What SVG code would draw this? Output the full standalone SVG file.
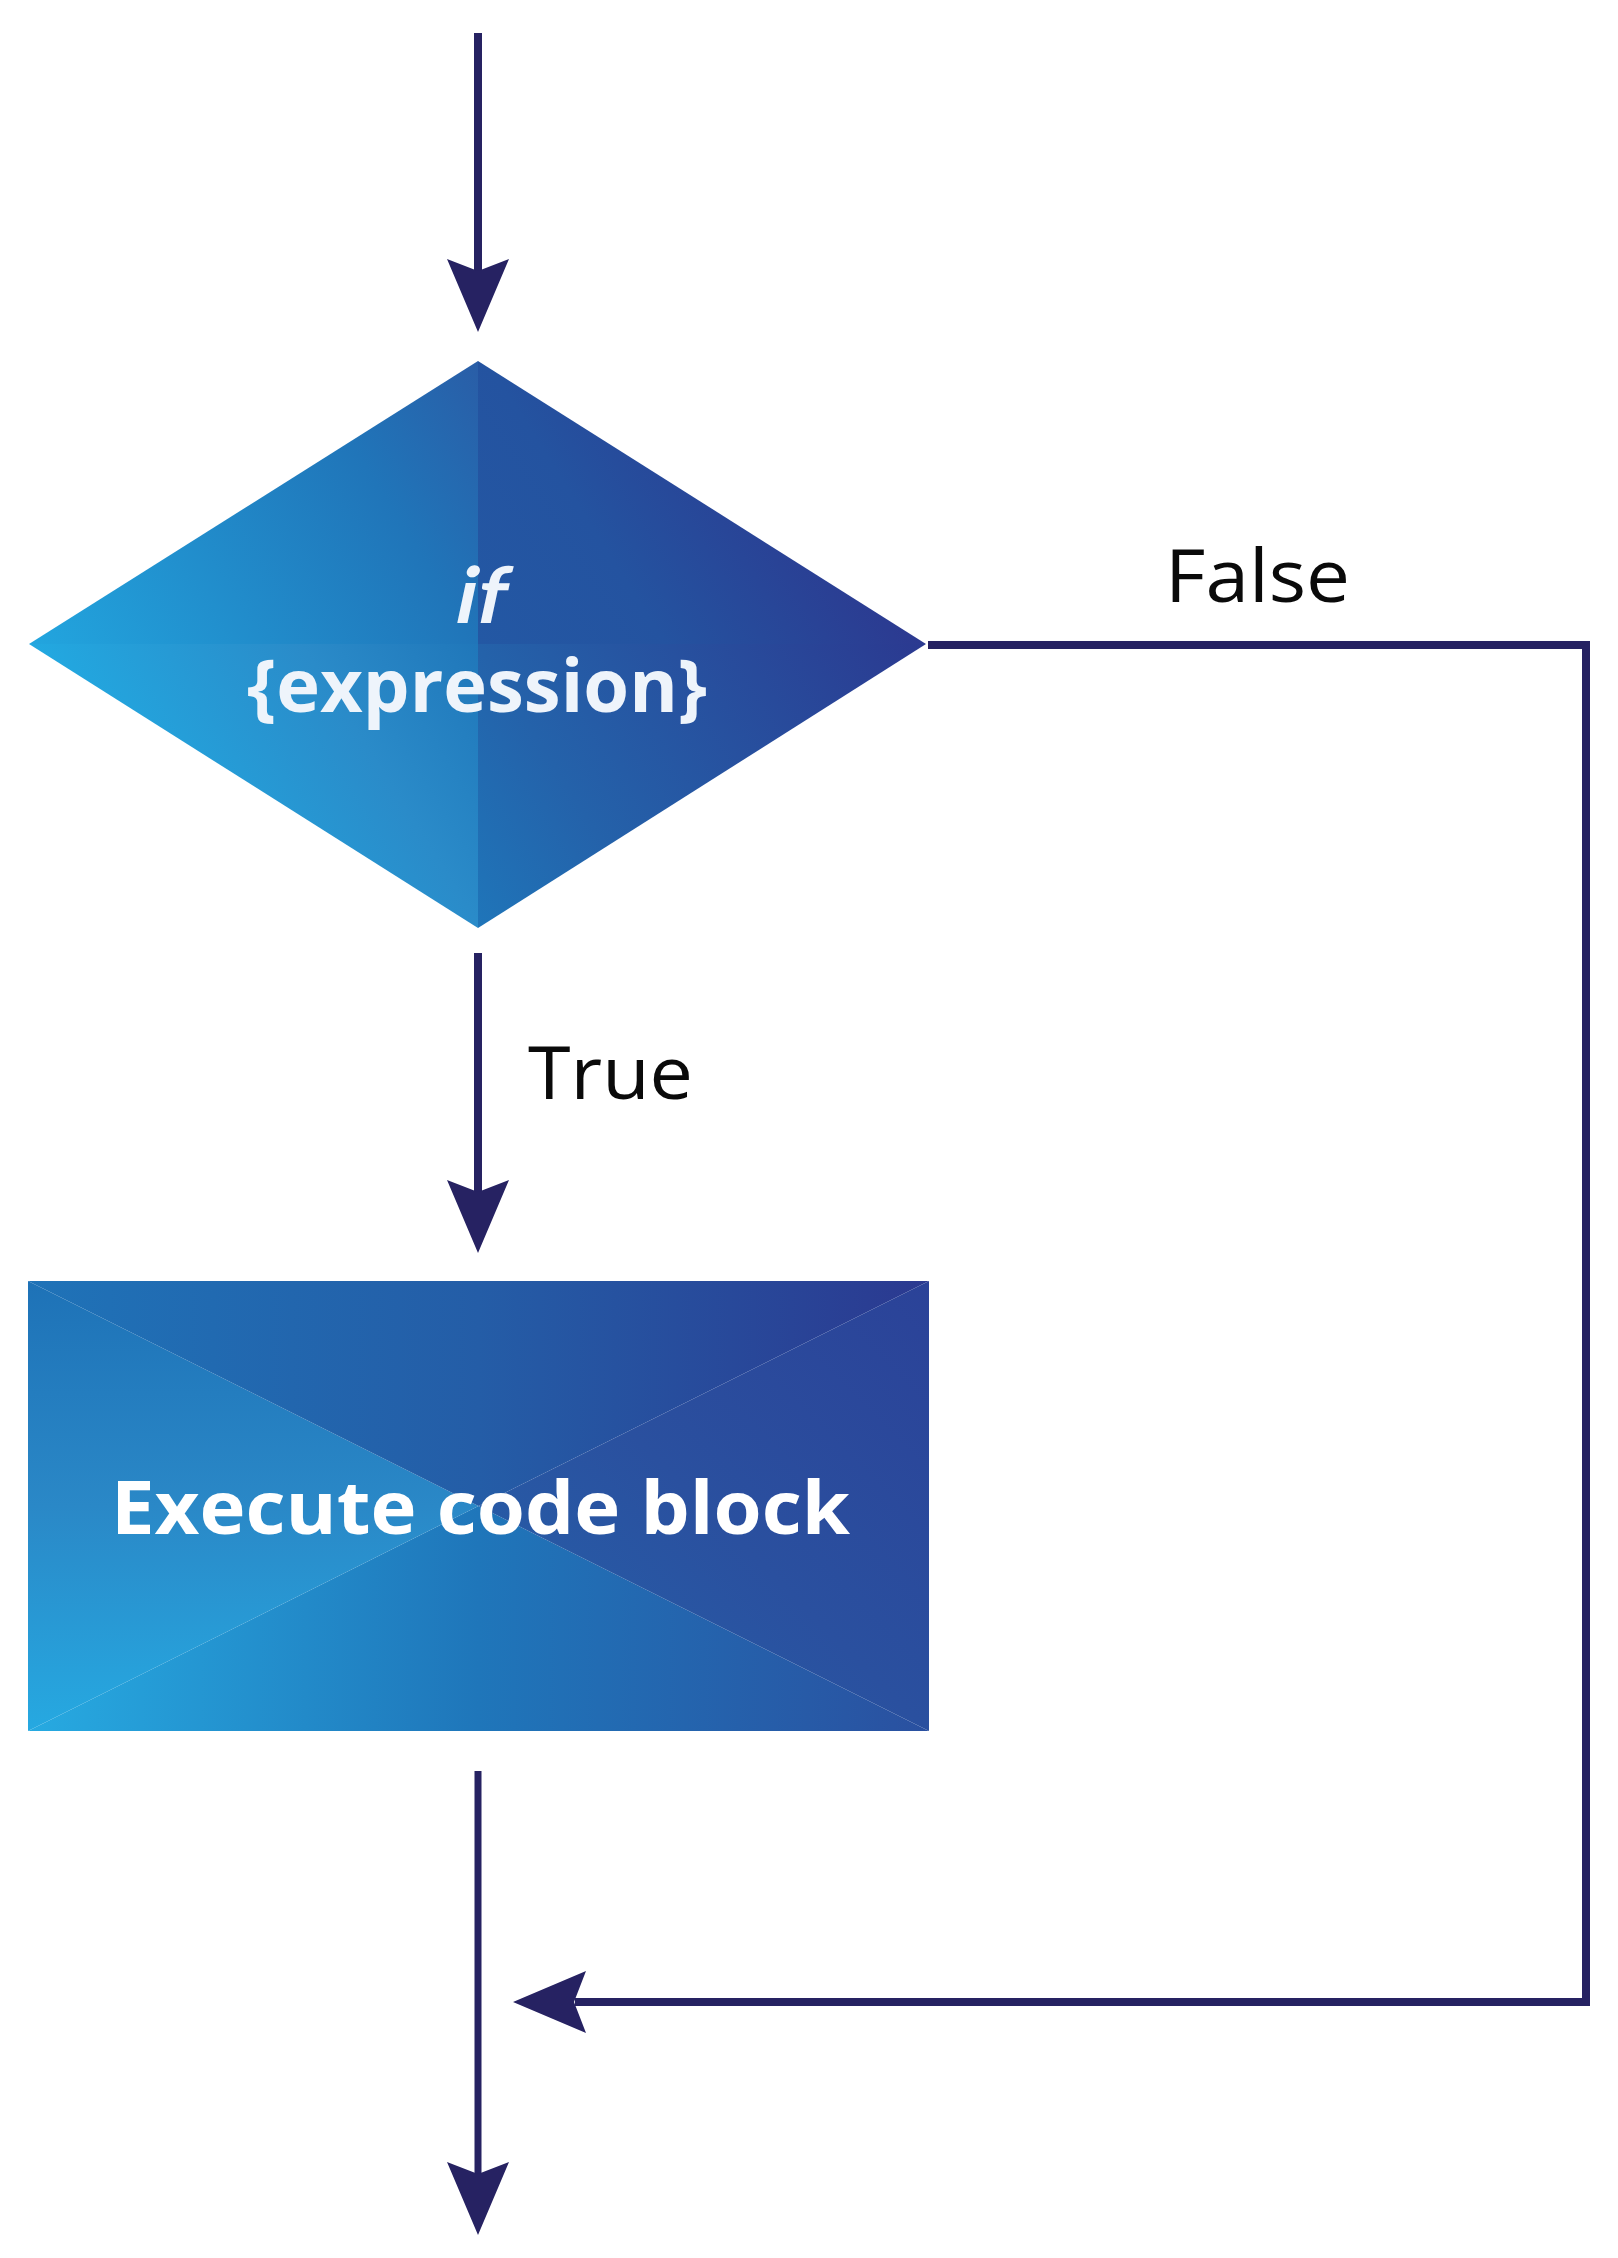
<svg xmlns="http://www.w3.org/2000/svg" xmlns:xlink="http://www.w3.org/1999/xlink" width="1618" height="2258" viewBox="0 0 1618 2258">
  <style>
    .line { fill: none; stroke: #262262; stroke-width: 8; stroke-linecap: butt; stroke-linejoin: miter; }
    .head { fill: #262262; }
    .node-text { font-family: "Open Sans", "Liberation Sans", sans-serif; font-weight: 700; font-size: 74px; }
    .if-text { font-family: Lato, "Liberation Sans", sans-serif; font-weight: 700; font-style: normal; font-size: 78px; }
    .label { font-family: "Open Sans", "Liberation Sans", sans-serif; font-weight: 400; font-size: 73px; fill: #0a0a0a; }
  </style>
  <defs>
    <path id="ah" d="M0,0 L-31,-73 L0,-61 L31,-73 Z"/>
    <!-- diamond quadrant gradients -->
    <linearGradient id="dTL" gradientUnits="userSpaceOnUse" x1="29" y1="928" x2="926" y2="361">
      <stop offset="0.14" stop-color="#22A6DF"/>
      <stop offset="0.5" stop-color="#2075B9"/>
      <stop offset="0.65" stop-color="#2A5CA6"/>
    </linearGradient>
    <linearGradient id="dTR" gradientUnits="userSpaceOnUse" x1="29" y1="928" x2="926" y2="361">
      <stop offset="0.5" stop-color="#2358A4"/>
      <stop offset="0.65" stop-color="#2453A0"/>
      <stop offset="0.86" stop-color="#2C3990"/>
    </linearGradient>
    <linearGradient id="dBL" gradientUnits="userSpaceOnUse" x1="29" y1="928" x2="926" y2="361">
      <stop offset="0.14" stop-color="#22A9E1"/>
      <stop offset="0.36" stop-color="#2A8BC9"/>
      <stop offset="0.5" stop-color="#2077BA"/>
    </linearGradient>
    <linearGradient id="dBR" gradientUnits="userSpaceOnUse" x1="29" y1="928" x2="926" y2="361">
      <stop offset="0.36" stop-color="#1F75B9"/>
      <stop offset="0.5" stop-color="#2462AA"/>
      <stop offset="0.86" stop-color="#2B3990"/>
    </linearGradient>
    <!-- rectangle triangle gradients -->
    <linearGradient id="rB" gradientUnits="userSpaceOnUse" x1="28" y1="1731" x2="929" y2="1731">
      <stop offset="0" stop-color="#27AAE1"/>
      <stop offset="0.5" stop-color="#1F76BA"/>
      <stop offset="1" stop-color="#2A50A0"/>
    </linearGradient>
    <linearGradient id="rL" gradientUnits="userSpaceOnUse" x1="28" y1="1731" x2="28" y2="1281">
      <stop offset="0" stop-color="#26A9E1"/>
      <stop offset="0.5" stop-color="#2A88C7"/>
      <stop offset="1" stop-color="#1E72B7"/>
    </linearGradient>
    <linearGradient id="rT" gradientUnits="userSpaceOnUse" x1="28" y1="1281" x2="929" y2="1281">
      <stop offset="0" stop-color="#1F73B8"/>
      <stop offset="0.5" stop-color="#245DA7"/>
      <stop offset="1" stop-color="#2B3990"/>
    </linearGradient>
    <linearGradient id="rR" gradientUnits="userSpaceOnUse" x1="478" y1="1731" x2="929" y2="1281">
      <stop offset="0" stop-color="#2563AB"/>
      <stop offset="0.5" stop-color="#2A509F"/>
      <stop offset="1" stop-color="#2B4298"/>
    </linearGradient>
  </defs>

  <g id="connectors">
    <!-- entry arrow -->
    <line class="line" x1="478" y1="33" x2="478" y2="275"/>
    <use href="#ah" class="head" transform="translate(478,332)"/>
    <!-- True arrow -->
    <line class="line" x1="478" y1="953" x2="478" y2="1195"/>
    <use href="#ah" class="head" transform="translate(478,1253)"/>
    <!-- exit arrow -->
    <line class="line" x1="478" y1="1771" x2="478" y2="2175" style="stroke-width:7"/>
    <use href="#ah" class="head" transform="translate(478,2235)"/>
    <!-- False path -->
    <polyline class="line" points="928,645 1586,645 1586,2002 575,2002"/>
    <use href="#ah" class="head" transform="translate(513,2002) rotate(90)"/>
  </g>

  <g id="label-false">
    <text class="label" x="1165" y="602" textLength="185" lengthAdjust="spacingAndGlyphs">False</text>
  </g>
  <g id="label-true">
    <text class="label" x="528" y="1099" textLength="165" lengthAdjust="spacingAndGlyphs">True</text>
  </g>

  <g id="node-if">
    <polygon points="29,644 478,361 478,644" fill="url(#dTL)"/>
    <polygon points="478,361 926,644 478,644" fill="url(#dTR)"/>
    <polygon points="29,644 478,644 478,928" fill="url(#dBL)"/>
    <polygon points="478,644 926,644 478,928" fill="url(#dBR)"/>
    <text class="if-text" x="0" y="0" transform="translate(452,623) skewX(-12)" fill="#EEF4FB" textLength="50" lengthAdjust="spacingAndGlyphs">if</text>
    <text class="node-text" x="247" y="712" fill="#EEF4FB" textLength="460" lengthAdjust="spacingAndGlyphs">{expression}</text>
  </g>

  <g id="node-execute">
    <polygon points="28,1731 478.5,1506 929,1731" fill="url(#rB)"/>
    <polygon points="28,1281 478.5,1506 28,1731" fill="url(#rL)"/>
    <polygon points="28,1281 929,1281 478.5,1506" fill="url(#rT)"/>
    <polygon points="929,1281 929,1731 478.5,1506" fill="url(#rR)"/>
    <text class="node-text" x="111" y="1534" fill="#FFFFFF" textLength="739" lengthAdjust="spacingAndGlyphs">Execute code block</text>
  </g>
</svg>
